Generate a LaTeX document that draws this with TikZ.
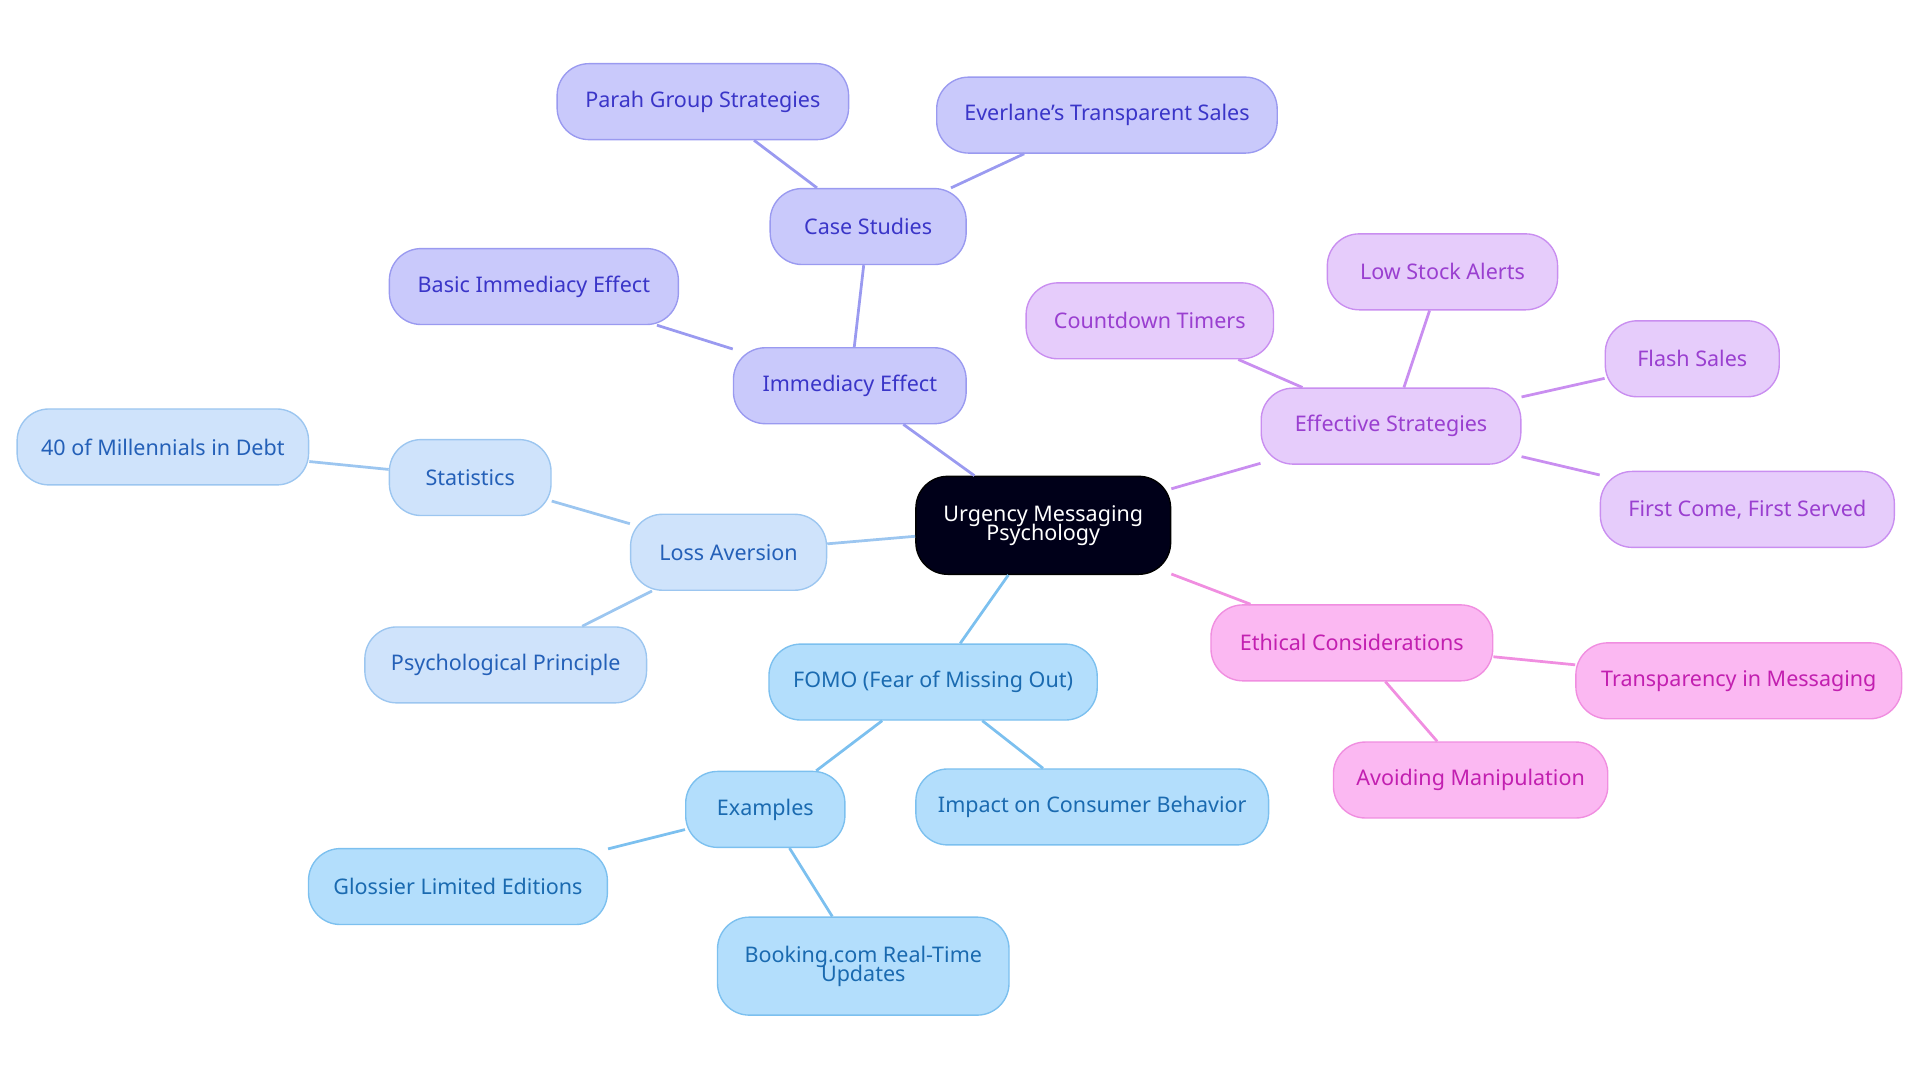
\documentclass[tikz,border=0pt]{standalone}
\usepackage{fontspec}
\setmainfont{Noto Sans}
\definecolor{gAf}{HTML}{C9C9FB}\definecolor{gAd}{HTML}{9A9AF0}\definecolor{gAt}{HTML}{3A35C8}
\definecolor{gBf}{HTML}{E6CCFB}\definecolor{gBd}{HTML}{C98EF0}\definecolor{gBt}{HTML}{9A3FD0}
\definecolor{gCf}{HTML}{FBB8F2}\definecolor{gCd}{HTML}{F08EE0}\definecolor{gCt}{HTML}{C21FB0}
\definecolor{gDf}{HTML}{CFE3FB}\definecolor{gDd}{HTML}{9CC6F0}\definecolor{gDt}{HTML}{2460B8}
\definecolor{gEf}{HTML}{B3DEFC}\definecolor{gEd}{HTML}{7CC0EF}\definecolor{gEt}{HTML}{1A6AB0}
\begin{document}
\begin{tikzpicture}[x=0.025cm,y=-0.025cm,
 base/.style={rounded corners=0.65cm,minimum height=1.55cm,line width=0.8pt,align=center,font=\fontsize{12.5}{13}\selectfont,inner sep=2pt},
 gA/.style={base,fill=gAf,draw=gAd,text=gAt},
 gB/.style={base,fill=gBf,draw=gBd,text=gBt},
 gC/.style={base,fill=gCf,draw=gCd,text=gCt},
 gD/.style={base,fill=gDf,draw=gDd,text=gDt},
 gE/.style={base,fill=gEf,draw=gEd,text=gEt},
 eA/.style={draw=gAd,line width=1.6pt},
 eB/.style={draw=gBd,line width=1.6pt},
 eC/.style={draw=gCd,line width=1.6pt},
 eD/.style={draw=gDd,line width=1.6pt},
 eE/.style={draw=gEd,line width=1.6pt}]
\useasboundingbox (0,0) rectangle (1568,884);
\node[base,fill=black!90!blue,draw=black,text=white,minimum width=5.2cm,minimum height=2cm] (root) at (852,429) {Urgency Messaging\\[-2pt]Psychology};
\node[gA,minimum width=4.75cm] (ie) at (694,315) {Immediacy Effect};
\node[gA,minimum width=4.0cm] (cs) at (709,185) {Case Studies};
\node[gA,minimum width=5.95cm] (pg) at (574,83) {Parah Group Strategies};
\node[gA,minimum width=6.95cm] (ev) at (904,94) {Everlane's Transparent Sales};
\node[gA,minimum width=5.9cm] (bi) at (436,234) {Basic Immediacy Effect};
\node[gB,minimum width=5.3cm] (es) at (1136,348) {Effective Strategies};
\node[gB,minimum width=5.05cm] (ct) at (939,262) {Countdown Timers};
\node[gB,minimum width=4.7cm] (ls) at (1178,222) {Low Stock Alerts};
\node[gB,minimum width=3.55cm] (fs) at (1382,293) {Flash Sales};
\node[gB,minimum width=6.0cm] (fc) at (1427,416) {First Come, First Served};
\node[gC,minimum width=5.75cm] (ec) at (1104,525) {Ethical Considerations};
\node[gC,minimum width=6.65cm] (tm) at (1420,556) {Transparency in Messaging};
\node[gC,minimum width=5.6cm] (am) at (1201,637) {Avoiding Manipulation};
\node[gD,minimum width=4.0cm] (la) at (595,451) {Loss Aversion};
\node[gD,minimum width=3.3cm] (st) at (384,390) {Statistics};
\node[gD,minimum width=5.95cm] (mi) at (133,365) {40 of Millennials in Debt};
\node[gD,minimum width=5.75cm] (pp) at (413,543) {Psychological Principle};
\node[gE,minimum width=6.7cm] (fo) at (762,557) {FOMO (Fear of Missing Out)};
\node[gE,minimum width=3.25cm] (ex) at (625,661) {Examples};
\node[gE,minimum width=7.2cm] (ic) at (892,659) {Impact on Consumer Behavior};
\node[gE,minimum width=6.1cm] (gl) at (374,724) {Glossier Limited Editions};
\node[gE,minimum width=5.95cm,minimum height=2cm] (bk) at (705,789) {Booking.com Real-Time\\[-2pt]Updates};
\draw[eA] (root)--(ie); \draw[eA] (ie)--(cs); \draw[eA] (cs)--(pg); \draw[eA] (cs)--(ev); \draw[eA] (ie)--(bi);
\draw[eB] (root)--(es); \draw[eB] (es)--(ct); \draw[eB] (es)--(ls); \draw[eB] (es)--(fs); \draw[eB] (es)--(fc);
\draw[eC] (root)--(ec); \draw[eC] (ec)--(tm); \draw[eC] (ec)--(am);
\draw[eD] (root)--(la); \draw[eD] (la)--(st); \draw[eD] (st)--(mi); \draw[eD] (la)--(pp);
\draw[eE] (root)--(fo); \draw[eE] (fo)--(ex); \draw[eE] (fo)--(ic); \draw[eE] (ex)--(gl); \draw[eE] (ex)--(bk);
\end{tikzpicture}
\end{document}
